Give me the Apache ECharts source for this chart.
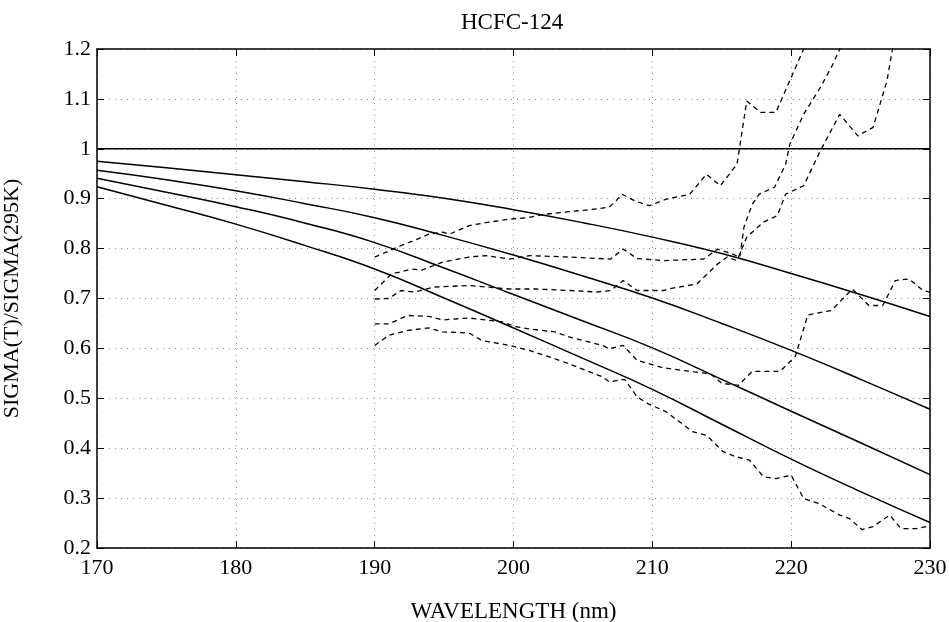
<!DOCTYPE html>
<html>
<head>
<meta charset="utf-8">
<title>HCFC-124</title>
<script src="https://cdn.jsdelivr.net/npm/echarts@6/dist/echarts.min.js"></script>
<style>
  html, body { margin: 0; padding: 0; background: #fff; }
  #chart { width: 949px; height: 622px; }
</style>
</head>
<body>
<div id="chart"></div>
<script>
// wavelength grid for the model curves (nm)
var wavelengths = [170, 175, 180, 185, 190, 195, 200, 205, 210, 215, 220, 225, 230]

// model ratios, top to bottom
var model1 = [0.975, 0.962, 0.948, 0.934, 0.919, 0.901, 0.878, 0.852, 0.823, 0.790, 0.750, 0.708, 0.664]
var model2 = [0.957, 0.938, 0.916, 0.890, 0.862, 0.826, 0.787, 0.745, 0.701, 0.650, 0.596, 0.538, 0.478]
var model3 = [0.941, 0.913, 0.884, 0.851, 0.812, 0.761, 0.708, 0.655, 0.601, 0.538, 0.474, 0.411, 0.347]
var model4 = [0.924, 0.887, 0.849, 0.806, 0.759, 0.701, 0.641, 0.580, 0.518, 0.448, 0.378, 0.313, 0.251]

var refLine = [[170, 1], [230, 1]]

// measured ratios [wavelength, ratio], top to bottom
var meas1 = [[190.0, 0.783], [191.0, 0.795], [191.9, 0.806], [193.0, 0.818], [193.9, 0.829], [194.9, 0.833],
  [195.4, 0.829], [196.8, 0.846], [198.0, 0.852], [199.7, 0.859], [201.0, 0.862], [202.3, 0.869],
  [204.0, 0.874], [205.5, 0.878], [206.9, 0.883], [207.4, 0.896], [207.8, 0.909], [208.8, 0.895],
  [209.8, 0.886], [211.0, 0.899], [212.7, 0.909], [213.9, 0.949], [214.9, 0.926], [216.1, 0.969],
  [216.8, 1.096], [217.8, 1.073], [218.9, 1.073], [220.9, 1.2], [221.5, 1.25]]
var meas2 = [[190.0, 0.716], [191.2, 0.749], [192.7, 0.759], [193.4, 0.757], [194.9, 0.773], [196.8, 0.783],
  [198.0, 0.786], [199.7, 0.779], [201.2, 0.786], [204.1, 0.783], [207.0, 0.779], [207.9, 0.799],
  [208.9, 0.780], [210.8, 0.776], [213.7, 0.779], [214.7, 0.799], [215.6, 0.791], [216.3, 0.783],
  [216.6, 0.843], [217.2, 0.889], [217.7, 0.909], [218.8, 0.923], [219.6, 0.969], [219.9, 1.009],
  [220.9, 1.069], [222.1, 1.123], [223.0, 1.169], [223.5, 1.2], [224.0, 1.24]]
var meas3 = [[190.0, 0.699], [191.0, 0.700], [191.9, 0.716], [192.9, 0.713], [194.3, 0.723], [196.8, 0.726],
  [199.7, 0.719], [201.6, 0.719], [204.1, 0.716], [206.0, 0.713], [207.0, 0.716], [207.9, 0.736],
  [208.9, 0.716], [210.8, 0.716], [211.3, 0.720], [213.2, 0.729], [214.7, 0.769], [215.4, 0.783],
  [216.1, 0.776], [216.8, 0.823], [218.0, 0.853], [219.0, 0.866], [219.6, 0.909], [220.9, 0.926],
  [222.1, 0.996], [223.5, 1.069], [224.8, 1.026], [225.9, 1.043], [226.9, 1.136], [227.3, 1.2], [227.7, 1.26]]
var meas4 = [[190.0, 0.649], [191.0, 0.649], [192.4, 0.666], [193.9, 0.664], [194.9, 0.657], [196.8, 0.661],
  [199.2, 0.653], [200.1, 0.644], [201.1, 0.639], [203.0, 0.633], [204.0, 0.623], [206.4, 0.606],
  [206.9, 0.599], [207.9, 0.606], [208.9, 0.576], [210.8, 0.561], [213.0, 0.553], [214.2, 0.549],
  [215.0, 0.530], [216.2, 0.526], [217.2, 0.554], [219.2, 0.554], [220.3, 0.584], [221.2, 0.667],
  [222.9, 0.676], [224.4, 0.719], [225.6, 0.686], [226.6, 0.686], [227.5, 0.736], [228.5, 0.739],
  [229.5, 0.716], [230.0, 0.713]]
var meas5 = [[190.0, 0.606], [191.0, 0.626], [192.4, 0.636], [193.9, 0.641], [194.9, 0.633], [196.8, 0.631],
  [197.7, 0.616], [199.7, 0.606], [201.1, 0.596], [203.0, 0.579], [204.0, 0.569], [206.4, 0.543],
  [206.9, 0.533], [208.0, 0.538], [208.9, 0.503], [209.7, 0.489], [211.0, 0.473], [212.9, 0.433],
  [213.9, 0.426], [215.1, 0.393], [216.0, 0.383], [217.0, 0.376], [218.0, 0.343], [218.9, 0.339],
  [220.0, 0.346], [220.9, 0.299], [222.0, 0.289], [223.5, 0.266], [224.2, 0.259], [225.1, 0.237],
  [225.9, 0.243], [227.1, 0.266], [227.9, 0.239], [229.0, 0.239], [230.0, 0.244]]

var serif = 'Liberation Serif'
var frame = { show: true, lineStyle: { color: '#000', width: 1.5 } }
var ticks = { show: true, inside: true, length: 7, lineStyle: { color: '#000', width: 1 } }
var dots = { show: true, lineStyle: { color: '#888', width: 1, type: [1, 5] } }

function zip(xs, ys) {
  return xs.map(function (x, i) { return [x, ys[i]] })
}

function solid(data) {
  return {
    type: 'line', data: data, smooth: true, symbol: 'none', xAxisIndex: 0, yAxisIndex: 0,
    lineStyle: { color: '#000', width: 1.5 }
  }
}

function dashed(data) {
  return {
    type: 'line', data: data, symbol: 'none', xAxisIndex: 0, yAxisIndex: 0,
    lineStyle: { color: '#000', width: 1.3, type: [5, 4] }
  }
}

var chart = echarts.init(document.getElementById('chart'))
chart.setOption({
  animation: false,
  backgroundColor: '#fff',
  title: {
    text: 'HCFC-124',
    left: 456,
    top: 6,
    textStyle: { fontFamily: serif, fontSize: 23, fontWeight: 'normal', color: '#000' }
  },
  grid: { left: 97, right: 19, top: 49, bottom: 74, containLabel: false, outerBoundsMode: 'none' },
  xAxis: [{
    type: 'value', position: 'bottom', min: 170, max: 230, interval: 10,
    name: 'WAVELENGTH (nm)', nameLocation: 'middle', nameGap: 52,
    nameTextStyle: { fontFamily: serif, fontSize: 23, color: '#000' },
    axisLine: frame, axisTick: ticks, splitLine: dots,
    axisLabel: { fontFamily: serif, fontSize: 22, color: '#000', margin: 9 }
  }, {
    type: 'value', position: 'top', min: 170, max: 230, interval: 10,
    axisLine: frame, axisTick: ticks, splitLine: { show: false }, axisLabel: { show: false }
  }],
  yAxis: [{
    type: 'value', position: 'left', min: 0.2, max: 1.2, interval: 0.1,
    name: 'SIGMA(T)/SIGMA(295K)', nameLocation: 'middle', nameGap: 74,
    nameTextStyle: { fontFamily: serif, fontSize: 22, color: '#000' },
    axisLine: frame, axisTick: ticks, splitLine: dots,
    axisLabel: {
      fontFamily: serif, fontSize: 22, color: '#000', margin: 6,
      formatter: function (v) { return String(+v.toFixed(1)) }
    }
  }, {
    type: 'value', position: 'right', min: 0.2, max: 1.2, interval: 0.1,
    axisLine: frame, axisTick: ticks, splitLine: { show: false }, axisLabel: { show: false }
  }],
  series: [
    solid(refLine),
    solid(zip(wavelengths, model1)),
    solid(zip(wavelengths, model2)),
    solid(zip(wavelengths, model3)),
    solid(zip(wavelengths, model4)),
    dashed(meas1),
    dashed(meas2),
    dashed(meas3),
    dashed(meas4),
    dashed(meas5)
  ]
})
</script>
</body>
</html>
